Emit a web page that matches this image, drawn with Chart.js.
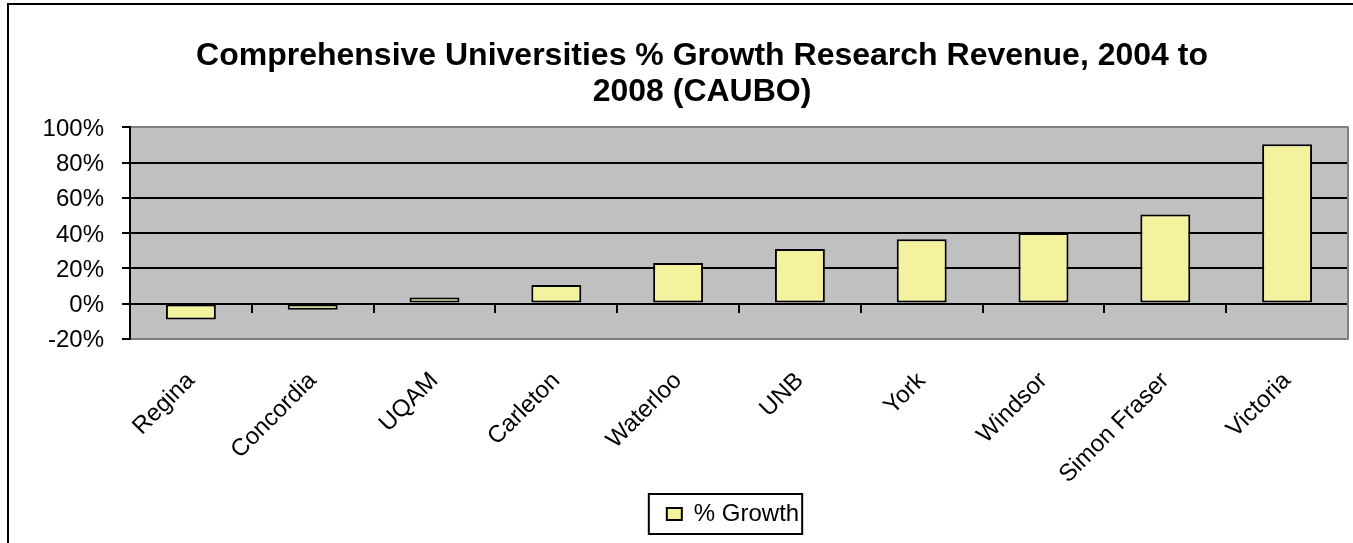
<!DOCTYPE html>
<html>
<head>
<meta charset="utf-8">
<script src="https://cdn.jsdelivr.net/npm/chart.js@4.4.1/dist/chart.umd.min.js"></script>
<style>
html, body { margin: 0; padding: 0; overflow: hidden; background: #fff; }
#frame { position: absolute; left: 7px; top: 3px; width: 1420px; height: 600px; border: 2px solid #000; }
#wrap { position: absolute; left: 9px; top: 5px; width: 1386px; height: 541px; }
</style>
</head>
<body>
<div id="frame"></div>
<div id="wrap"><canvas id="chart"></canvas></div>
<script>
const universities = ['Regina', 'Concordia', 'UQAM', 'Carleton', 'Waterloo', 'UNB', 'York', 'Windsor', 'Simon Fraser', 'Victoria'];
const growth = [-9, -3.5, 3.5, 10.5, 23, 31, 36.5, 40, 50.5, 90.5];
const yTicks = [-20, 0, 20, 40, 60, 80, 100];

const FONT = 'Liberation Sans, Arial, sans-serif';

// plot background, right border, legend frame, small layout nudges
const decor = {
    id: 'decor',
    afterLayout(chart) {
        // let the y labels draw left of the narrowed scale box
        chart.scales.y.left = 0;
        // legend sits a bit left of the plot centre in the original
        chart.legend.left -= 6;
        chart.legend.right -= 6;
    },
    beforeDraw(chart) {
        const { ctx, chartArea: a } = chart;
        ctx.save();
        ctx.fillStyle = '#c0c0c0';
        ctx.fillRect(a.left, a.top, a.right - a.left, a.bottom - a.top);
        ctx.restore();
    },
    afterDraw(chart) {
        const { ctx, chartArea: a } = chart;
        ctx.save();
        ctx.strokeStyle = '#808080';
        ctx.lineWidth = 2;
        ctx.beginPath();
        ctx.moveTo(a.right, a.top - 1);
        ctx.lineTo(a.right, a.bottom + 1);
        ctx.stroke();
        const hb = chart.legend.legendHitBoxes[0];
        if (hb) {
            ctx.strokeStyle = '#000';
            ctx.lineWidth = 2;
            ctx.strokeRect(hb.left - 18, hb.top - 8, hb.width + 21, hb.height + 16);
        }
        ctx.restore();
    }
};

new Chart(document.getElementById('chart'), {
    type: 'bar',
    data: {
        labels: universities,
        datasets: [{
            label: '% Growth',
            data: growth,
            backgroundColor: '#f4f29e',
            borderColor: '#000',
            borderWidth: 2,
            borderSkipped: false,
            barPercentage: 0.41,
            categoryPercentage: 1
        }]
    },
    options: {
        responsive: true,
        maintainAspectRatio: false,
        animation: false,
        layout: { padding: { left: 47, right: 47, top: 0, bottom: 10 } },
        plugins: {
            title: {
                display: true,
                text: ['Comprehensive Universities % Growth Research Revenue, 2004 to', '2008 (CAUBO)'],
                color: '#000',
                font: { family: FONT, size: 32, weight: 'bold', lineHeight: 1.1 },
                padding: { top: 34, bottom: 18 }
            },
            legend: {
                position: 'bottom',
                fullSize: false,
                labels: {
                    color: '#000',
                    boxWidth: 15,
                    boxHeight: 12,
                    padding: 12,
                    font: { family: FONT, size: 24 }
                }
            },
            tooltip: { enabled: false }
        },
        scales: {
            x: {
                grid: { display: false },
                border: { display: false },
                afterFit: scale => { scale.height -= 19; },
                ticks: {
                    color: '#000',
                    font: { family: FONT, size: 24 },
                    maxRotation: 45,
                    minRotation: 45,
                    padding: 20
                }
            },
            x2: {
                type: 'category',
                labels: universities,
                position: { y: 0 },
                grid: { offset: true, drawOnChartArea: false, tickLength: 8, color: '#000', lineWidth: 2 },
                border: { display: true, color: '#000', width: 2 },
                ticks: { display: false }
            },
            y: {
                min: -20,
                max: 100,
                afterBuildTicks: scale => { scale.ticks = yTicks.map(v => ({ value: v })); },
                afterFit: scale => { scale.width = 74; },
                grid: {
                    color: c => (c.tick && (c.tick.value === 100 || c.tick.value === -20)) ? '#808080' : '#000',
                    tickColor: '#000',
                    lineWidth: 2,
                    tickLength: 8
                },
                border: { display: true, color: '#000', width: 2 },
                ticks: {
                    color: '#000',
                    padding: 18,
                    labelOffset: 2,
                    font: { family: FONT, size: 24 },
                    callback: v => v + '%'
                }
            }
        }
    },
    plugins: [decor]
});
</script>
</body>
</html>
